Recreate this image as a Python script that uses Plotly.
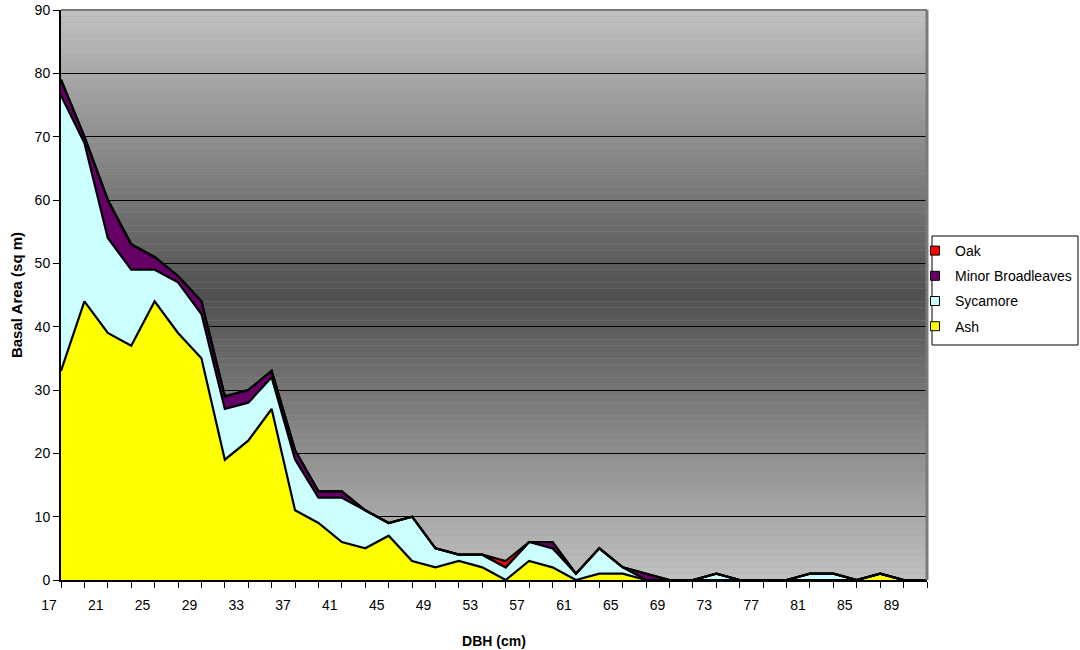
import plotly.graph_objects as go

dbh = list(range(17, 93, 2))  # 17..91

ash = [33, 44, 39, 37, 44, 39, 35, 19, 22, 27, 11, 9, 6, 5, 7, 3, 2, 3, 2, 0,
       3, 2, 0, 1, 1, 0, 0, 0, 0, 0, 0, 0, 0, 0, 0, 1, 0, 0]
sycamore = [43.5, 25, 15, 12, 5, 8, 7, 8, 6, 5, 8, 4, 7, 6, 2, 7, 3, 1, 2, 2,
            3, 3, 1, 4, 1, 0, 0, 0, 1, 0, 0, 0, 1, 1, 0, 0, 0, 0]
minor_broadleaves = [2.5, 1, 6, 4, 2, 1, 2, 2, 2, 1, 1.5, 1, 1, 0, 0, 0, 0, 0, 0, 0,
                     0, 1, 0, 0, 0, 1, 0, 0, 0, 0, 0, 0, 0, 0, 0, 0, 0, 0]
oak = [0, 0, 0, 0, 0, 0, 0, 0, 0, 0, 0, 0, 0, 0, 0, 0, 0, 0, 0, 1,
       0, 0, 0, 0, 0, 0, 0, 0, 0, 0, 0, 0, 0, 0, 0, 0, 0, 0]

x_labels = list(range(17, 91, 4))
y_ticks = list(range(0, 100, 10))

series = [
    ("Ash", ash, "#FFFF00"),
    ("Sycamore", sycamore, "#CCFFFF"),
    ("Minor Broadleaves", minor_broadleaves, "#660066"),
    ("Oak", oak, "#FF0000"),
]

fig = go.Figure()
for name, vals, col in series:
    fig.add_trace(go.Scatter(
        x=dbh, y=vals, name=name, mode="lines", stackgroup="one",
        line=dict(color="black", width=2.2), fillcolor=col,
        showlegend=False, hoverinfo="x+y+name"))

# legend entries (square swatches)
for name, vals, col in reversed(series):
    fig.add_trace(go.Scatter(
        x=[None], y=[None], name=name, mode="markers", legendgroup=name,
        marker=dict(symbol="square", size=9, color=col,
                    line=dict(color="black", width=1))))

# gradient background bands (light top/bottom, dark centre)
n = 90
shapes = []
for i in range(n):
    t = (i + 0.5) / n
    d = abs(t - 0.5) * 2  # 0 at centre, 1 at edges
    v = int(round(80 + (193 - 80) * d))
    c = f"rgb({v},{v},{v})"
    shapes.append(dict(type="rect", xref="x domain", yref="y domain",
                       x0=0, x1=1, y0=1 - (i + 1) / n, y1=1 - i / n,
                       fillcolor=c, line=dict(width=0), layer="below"))
# gray frame top/right
shapes.append(dict(type="line", xref="x domain", yref="y domain",
                   x0=0, x1=1, y0=1, y1=1, line=dict(color="#7a7a7a", width=2)))
shapes.append(dict(type="line", xref="x domain", yref="y domain",
                   x0=1, x1=1, y0=0, y1=1, line=dict(color="#7a7a7a", width=3)))
# legend frame
PW, PH = 866.0, 570.0
shapes.append(dict(type="rect", xref="paper", yref="paper",
                   x0=(932 - 61) / PW, x1=(1078 - 61) / PW,
                   y0=(580 - 345) / PH, y1=(580 - 236) / PH,
                   fillcolor="white", line=dict(color="black", width=1),
                   layer="below"))

fig.update_layout(
    width=1080, height=650,
    margin=dict(l=61, r=153, t=10, b=70, autoexpand=False),
    paper_bgcolor="white", plot_bgcolor="#a0a0a0",
    font=dict(family="Liberation Sans, Arial, sans-serif", size=14, color="black"),
    shapes=shapes,
    showlegend=True,
    hovermode=False,
    legend=dict(x=(915 - 61) / PW, y=(580 - 235) / PH, xanchor="left", yanchor="top",
                bgcolor="rgba(0,0,0,0)", borderwidth=0,
                font=dict(size=14), traceorder="grouped",
                tracegroupgap=4),
    xaxis=dict(
        range=[17, 91], tickmode="array", tickvals=x_labels,
        ticktext=[str(v) for v in x_labels],
        ticks="outside", ticklen=6, tickcolor="black", tickwidth=1,
        ticklabelshift=-12, ticklabelstandoff=5,
        minor=dict(tick0=17, dtick=2, ticks="outside", ticklen=6,
                   tickcolor="black", tickwidth=1, showgrid=False),
        showgrid=False, zeroline=False, automargin=False,
        showline=True, linecolor="black", linewidth=2,
        title=dict(text="<b>DBH (cm)</b>", font=dict(size=14), standoff=24),
    ),
    yaxis=dict(
        range=[0, 90], tickmode="array", tickvals=y_ticks,
        ticks="outside", ticklen=6, tickcolor="black", tickwidth=1,
        showgrid=True, gridcolor="black", gridwidth=1, automargin=False,
        zeroline=False, showline=True, linecolor="black", linewidth=2,
        title=dict(text="<b>Basal Area (sq m)</b>", font=dict(size=15), standoff=8),
    ),
)

fig.write_html("out.html", config={"displayModeBar": False},
               post_script="document.body.style.margin='0px';")
